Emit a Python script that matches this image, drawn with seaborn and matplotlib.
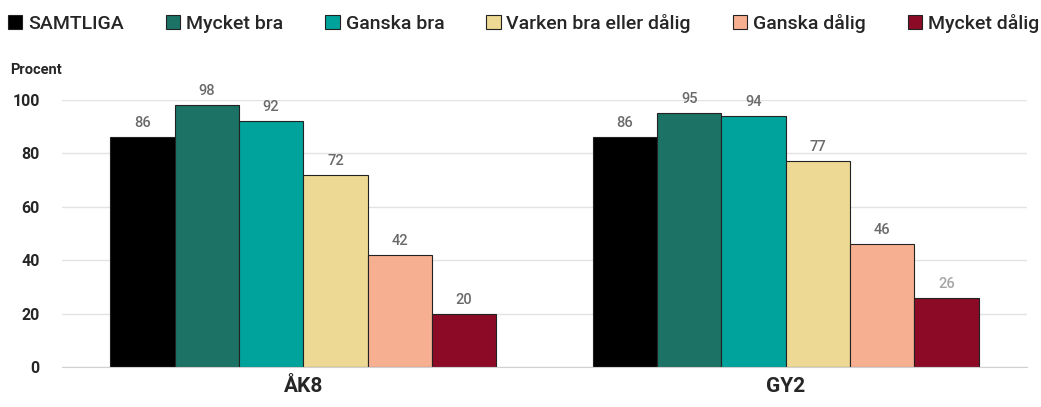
import pandas as pd
import seaborn as sns
import matplotlib.pyplot as plt

groups = ["ÅK8", "GY2"]
answers = ["SAMTLIGA", "Mycket bra", "Ganska bra", "Varken bra eller dålig", "Ganska dålig", "Mycket dålig"]
ak8 = [86, 98, 92, 72, 42, 20]
gy2 = [86, 95, 94, 77, 46, 26]
colors = ["#000000", "#1B7265", "#00A39B", "#EDD894", "#F6AF91", "#8C0A26"]

rows = []
for g, vals in zip(groups, [ak8, gy2]):
    for a, v in zip(answers, vals):
        rows.append({"grupp": g, "svar": a, "procent": v})
df = pd.DataFrame(rows)

sns.set_style("white")
plt.rcParams["font.family"] = ["Roboto", "DejaVu Sans"]

fig = plt.figure(figsize=(10.41, 4.07), dpi=100)
ax = fig.add_axes([0.0596, 0.0983, 0.927, 0.656])

sns.barplot(data=df, x="grupp", y="procent", hue="svar", hue_order=answers,
            order=groups, palette=colors, saturation=1, width=0.8,
            edgecolor="#222222", linewidth=0.8, ax=ax, legend=False)

for i, cont in enumerate(ax.containers):
    for j, bar in enumerate(cont):
        c = "#a6a6a6" if (i == 5 and j == 1) else "#6a6a6a"
        ax.annotate(f"{bar.get_height():.0f}",
                    (bar.get_x() + bar.get_width() / 2, bar.get_height()),
                    xytext=(0, 5), textcoords="offset points",
                    ha="center", va="bottom", fontsize=10.5, color=c,
                    fontweight="medium", annotation_clip=False)

ax.set_ylim(0, 100)
ax.set_xlim(-0.5, 1.5)
ax.set_yticks([0, 20, 40, 60, 80, 100])
ax.yaxis.grid(True, color="#E3E3E3", linewidth=1)
ax.set_axisbelow(True)
for s in ["top", "right", "left"]:
    ax.spines[s].set_visible(False)
ax.spines["bottom"].set_color("#D0D0D0")
ax.tick_params(axis="y", length=0, labelsize=11.5, pad=16)
for t in ax.get_yticklabels():
    t.set_fontweight("bold")
ax.set_xticks([0, 1])
ax.set_xticklabels(groups, fontsize=15, fontweight="bold")
ax.set_xticks([-0.5, 0.5, 1.5], minor=True)
ax.tick_params(axis="x", which="major", length=0, pad=7)
ax.tick_params(axis="x", which="minor", length=6, color="#D0D0D0", direction="out")
ax.set_xlabel("")
ax.set_ylabel("")

fig.text(0.0096, 0.828, "Procent", fontsize=10.5, fontweight="bold", ha="left", va="center")

handles = [plt.Rectangle((0, 0), 1, 1, facecolor=c, edgecolor="#222222", linewidth=0.8) for c in colors]
fig.legend(handles, answers, loc="center", bbox_to_anchor=(0.503, 0.942), ncol=6,
           frameon=False, handlelength=0.75, handleheight=0.75, handletextpad=0.3,
           columnspacing=2.15, prop={"size": 14, "weight": "medium"})

fig.savefig("out.png", dpi=100)
